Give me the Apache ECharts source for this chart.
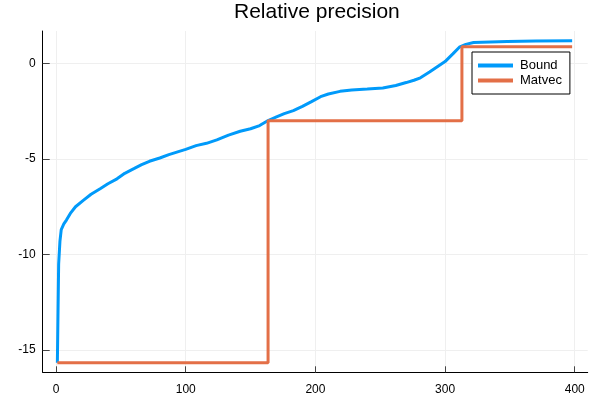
<!DOCTYPE html>
<html>
<head>
<meta charset="utf-8">
<script src="https://cdn.jsdelivr.net/npm/echarts@6/dist/echarts.min.js"></script>
<style>html,body{margin:0;padding:0;background:#fff}#c{width:600px;height:400px}</style>
</head>
<body>
<div id="c"></div>
<script>
var titleText = 'Relative precision';
var seriesNames = ['Bound', 'Matvec'];
var xTicks = [0, 100, 200, 300, 400];
var yTicks = [-15, -10, -5, 0];

var boundX = [1, 2, 3, 4, 6, 8, 11, 15, 21, 27, 34, 40, 47, 53, 60, 66, 72, 80, 87, 95, 100, 108, 116, 124, 133, 142, 150, 157, 163.5, 170, 176, 183, 190, 197, 204, 210, 219, 228, 240, 252, 262, 270, 276, 281, 288, 296, 300, 306, 311, 316, 322, 335, 348, 370, 398];
var boundY = [-15.67, -10.5, -9.3, -8.7, -8.4, -8.2, -7.85, -7.5, -7.17, -6.85, -6.56, -6.3, -6.04, -5.75, -5.51, -5.3, -5.12, -4.95, -4.77, -4.6, -4.5, -4.3, -4.18, -4.0, -3.75, -3.55, -3.42, -3.25, -2.99, -2.8, -2.63, -2.47, -2.25, -2.0, -1.74, -1.6, -1.46, -1.39, -1.34, -1.28, -1.15, -1.0, -0.88, -0.75, -0.45, -0.08, 0.1, 0.5, 0.85, 1.0, 1.1, 1.13, 1.15, 1.17, 1.19];

var matvecX = [1, 163.5, 163.5, 313, 313, 398];
var matvecY = [-15.67, -15.67, -3, -3, 0.87, 0.87];

function zip(a, b) { return a.map(function (v, i) { return [v, b[i]]; }); }

var chart = echarts.init(document.getElementById('c'), null, {renderer: 'canvas'});
var font = 'Liberation Sans, Arial, Helvetica, sans-serif';
chart.setOption({
  animation: false,
  backgroundColor: '#ffffff',
  title: {
    text: titleText,
    left: 234, top: 2, padding: 0,
    textStyle: {fontFamily: font, fontSize: 21, fontWeight: 'normal', color: '#000'}
  },
  grid: {left: 42.7, right: 12.3, top: 31, bottom: 27.7, containLabel: false},
  legend: {
    orient: 'vertical',
    left: 472, top: 52,
    padding: [7, 8, 7, 6],
    itemGap: 2,
    itemWidth: 35, itemHeight: 4,
    icon: 'rect',
    borderColor: '#000', borderWidth: 1,
    backgroundColor: '#fff',
    textStyle: {fontFamily: font, fontSize: 13, color: '#000', padding: [0, 0, 0, 2]},
    data: seriesNames
  },
  xAxis: {
    type: 'value', min: -10.3, max: 410,
    axisLine: {show: true, onZero: false, lineStyle: {color: '#000', width: 1}},
    axisTick: {show: true, inside: true, length: 6, customValues: xTicks, lineStyle: {color: '#444'}},
    axisLabel: {customValues: xTicks, fontFamily: font, fontSize: 12, color: '#000', margin: 11},
    splitLine: {show: true, lineStyle: {color: '#efefef', width: 1}}
  },
  yAxis: {
    type: 'value', min: -16.17, max: 1.70,
    axisLine: {show: true, onZero: false, lineStyle: {color: '#000', width: 1}},
    axisTick: {show: true, inside: true, length: 7, customValues: yTicks, lineStyle: {color: '#444'}},
    axisLabel: {customValues: yTicks, fontFamily: font, fontSize: 12, color: '#000', margin: 7},
    splitLine: {show: true, lineStyle: {color: '#efefef', width: 1}}
  },
  series: [
    {name: seriesNames[0], type: 'line', data: zip(boundX, boundY), showSymbol: false, symbol: 'none',
     lineStyle: {color: '#009AFA', width: 3}, itemStyle: {color: '#009AFA'}, z: 2},
    {name: seriesNames[1], type: 'line', data: zip(matvecX, matvecY), showSymbol: false, symbol: 'none',
     lineStyle: {color: '#E36F47', width: 3}, itemStyle: {color: '#E36F47'}, z: 3}
  ]
});
</script>
</body>
</html>
